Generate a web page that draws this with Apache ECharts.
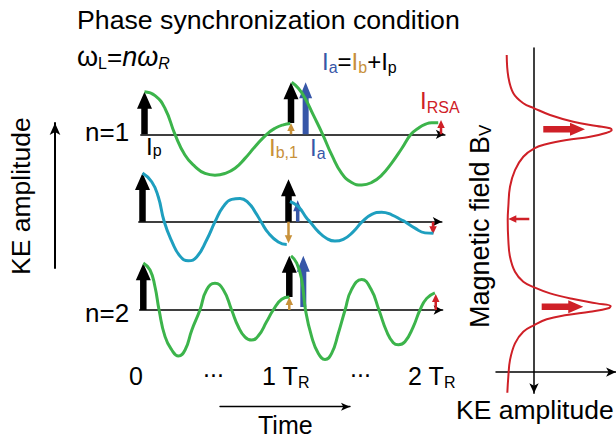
<!DOCTYPE html>
<html>
<head>
<meta charset="utf-8">
<script src="https://cdn.jsdelivr.net/npm/echarts@6/dist/echarts.min.js"></script>
<style>
html, body { margin: 0; padding: 0; background: #fff; }
#chart { width: 616px; height: 440px; }
</style>
</head>
<body>
<div id="chart"></div>
<script>
var FONT = "'Liberation Sans', Arial, Helvetica, sans-serif";
var GREEN = '#3cb44b', TEAL = '#1e9fbf', BLUE = '#3757a8', GOLD = '#c8913a', RED = '#cf2027';

// time in T_R, amplitude in units of the pump kick
var n1Before = [[0.00, 0.99], [0.072, 0.90], [0.140, 0.60], [0.208, 0], [0.276, -0.48], [0.345, -0.75], [0.413, -0.91],
    [0.481, -0.95], [0.549, -0.91], [0.618, -0.79], [0.686, -0.56], [0.754, -0.29], [0.834, 0], [0.891, 0.14],
    [0.947, 0.22], [0.995, 0.25]];
var n1After = [[1.005, 1.21], [1.050, 1.07], [1.096, 0.84], [1.152, 0.45], [1.216, 0], [1.278, -0.48], [1.346, -0.91],
    [1.414, -1.12], [1.483, -1.18], [1.551, -1.12], [1.619, -0.95], [1.687, -0.67], [1.756, -0.33], [1.819, 0],
    [1.869, 0.14], [1.915, 0.23], [1.960, 0.27], [2.005, 0.27]];

var n2Before = [[0.00, 1.13], [0.063, 0.93], [0.108, 0.58], [0.149, 0], [0.200, -0.45], [0.257, -0.80], [0.314, -0.91],
    [0.371, -0.82], [0.440, -0.42], [0.497, 0], [0.553, 0.35], [0.611, 0.52], [0.668, 0.54], [0.725, 0.44],
    [0.771, 0.23], [0.812, 0], [0.862, -0.26], [0.930, -0.47], [0.988, -0.53]];
var n2After = [[1.010, 0.47], [1.067, 0.35], [1.125, 0.08], [1.147, 0], [1.204, -0.23], [1.262, -0.39], [1.318, -0.45],
    [1.375, -0.41], [1.444, -0.23], [1.505, 0], [1.570, 0.17], [1.638, 0.22], [1.707, 0.16], [1.775, 0.04],
    [1.798, 0], [1.866, -0.15], [1.935, -0.26], [1.992, -0.27]];

var n3Before = [[0.00, 1.09], [0.046, 0.93], [0.080, 0.54], [0.108, 0], [0.149, -0.62], [0.195, -0.93], [0.240, -1.07],
    [0.286, -0.93], [0.332, -0.47], [0.388, 0], [0.434, 0.47], [0.491, 0.62], [0.548, 0.47], [0.605, 0],
    [0.651, -0.39], [0.697, -0.63], [0.742, -0.70], [0.788, -0.60], [0.845, -0.27], [0.890, 0], [0.948, 0.25],
    [1.000, 0.30]];
var n3After = [[1.012, 1.26], [1.051, 1.09], [1.085, 0.70], [1.111, 0], [1.153, -0.62], [1.199, -1.01], [1.245, -1.15],
    [1.290, -1.01], [1.336, -0.54], [1.382, 0], [1.427, 0.48], [1.496, 0.71], [1.560, 0.48], [1.614, 0],
    [1.667, -0.50], [1.712, -0.76], [1.747, -0.81], [1.792, -0.74], [1.849, -0.39], [1.895, 0], [1.941, 0.27],
    [1.997, 0.40]];

// kicks: [panel, time, from, to]
var pumpArrows = [[0, 0, 0, 0.99], [0, 1.0, 0.26, 1.21], [1, 0, 0, 1.13], [1, 1.0, 0, 0.99], [2, 0, 0, 1.09], [2, 1.0, 0.30, 1.26]];
var sumArrows = [[0, 1.10, 0, 1.21], [2, 1.096, 0.07, 1.26]];
var sumArrowsWeak = [[1, 1.063, 0, 0.50]];
var before = [[0, 1.0, 0, 0.26], [1, 1.0, 0, -0.50], [2, 1.0, 0, 0.30]];
var rsaArrows = [[0, 2.024, 0, 0.33], [1, 1.99, 0, -0.29], [2, 2.003, 0, 0.37]];

// right panel: [KE amplitude, magnetic field]
var fieldCurve = [[-0.359, 3.522], [-0.338, 3.281], [-0.272, 3.097], [-0.141, 2.986], [0.004, 2.930], [0.211, 2.856],
    [0.517, 2.781], [0.825, 2.733], [1.000, 2.708], [1.022, 2.689], [0.957, 2.659], [0.737, 2.614], [0.430, 2.578],
    [0.167, 2.533], [0.004, 2.486], [-0.141, 2.392], [-0.250, 2.244], [-0.316, 2.059], [-0.338, 1.837], [-0.346, 1.689],
    [-0.338, 1.467], [-0.316, 1.281], [-0.250, 1.114], [-0.141, 1.003], [0.004, 0.941], [0.211, 0.874], [0.517, 0.811],
    [0.825, 0.763], [1.009, 0.733], [0.978, 0.708], [0.737, 0.670], [0.430, 0.633], [0.167, 0.586], [0.004, 0.522],
    [-0.141, 0.448], [-0.250, 0.319], [-0.316, 0.133], [-0.338, -0.052], [-0.351, -0.23]];
// [field, from, to]
var fieldArrows = [[2.697, 0.122, 0.671], [0.726, 0.101, 0.648]];
var fieldArrowsWeak = [[1.70, -0.062, -0.338]];

var panelCurves = [[n1Before, n1After], [n2Before, n2After], [n3Before, n3After]];
var panelColors = [GREEN, TEAL, GREEN];

// layout of the three time traces
var panelAxisY = [134.3, 221.7, 310];
var panelZeroX = [144.5, 142.5, 143.3];
var panelPxPerT = [146.5, 146, 146];
var PX_PER_AMP = 43, T_MIN = -0.025, T_MAX = 2.05, A_LIM = 1.5;

var sizes = {
    pump: {w: 6.5, hw: 15, hl: 17},
    sum: {w: 6, hw: 13, hl: 16},
    sumWeak: {w: 3.5, hw: 9, hl: 11},
    small: {w: 2.5, hw: 7.5, hl: 8},
    big: {w: 6.5, hw: 13, hl: 15}
};

function arrowPoints(p0, p1, s) {
    var dx = p1[0] - p0[0], dy = p1[1] - p0[1];
    var len = Math.sqrt(dx * dx + dy * dy) || 1;
    var ux = dx / len, uy = dy / len, nx = -uy, ny = ux;
    var hl = Math.min(s.hl, len);
    var bx = p1[0] - ux * hl, by = p1[1] - uy * hl;
    return [
        [p0[0] + nx * s.w / 2, p0[1] + ny * s.w / 2],
        [bx + nx * s.w / 2, by + ny * s.w / 2],
        [bx + nx * s.hw / 2, by + ny * s.hw / 2],
        [p1[0], p1[1]],
        [bx - nx * s.hw / 2, by - ny * s.hw / 2],
        [bx - nx * s.w / 2, by - ny * s.w / 2],
        [p0[0] - nx * s.w / 2, p0[1] - ny * s.w / 2]
    ];
}

function arrowSeries(idx, data, size, color) {
    return {
        type: 'custom', xAxisIndex: idx, yAxisIndex: idx, data: data, z: 2, silent: true,
        encode: {x: [0, 2], y: [1, 3]},
        renderItem: function (params, api) {
            var p0 = api.coord([api.value(0), api.value(1)]);
            var p1 = api.coord([api.value(2), api.value(3)]);
            return {type: 'polygon', shape: {points: arrowPoints(p0, p1, size)}, style: {fill: color}};
        }
    };
}

var ctx = document.createElement('canvas').getContext('2d');
// parts: [text, size, dy, color, italic]
function run(x, y, parts, vertical) {
    var out = [], adv = 0;
    parts.forEach(function (p) {
        var font = (p[4] ? 'italic ' : '') + p[1] + 'px ' + FONT;
        ctx.font = font;
        var w = ctx.measureText(p[0]).width;
        var dy = p[2] || 0;
        out.push({
            type: 'text', silent: true,
            x: vertical ? x + dy : x + adv,
            y: vertical ? y - adv : y + dy,
            rotation: vertical ? Math.PI / 2 : 0,
            style: {text: p[0], font: font, fill: p[3] || '#000', align: 'left', verticalAlign: 'middle'}
        });
        adv += w;
    });
    return out;
}

var grids = [], xAxes = [], yAxes = [], series = [];
var noAxisBits = {axisTick: {show: false}, axisLabel: {show: false}, splitLine: {show: false}};

for (var i = 0; i < 3; i++) {
    grids.push({
        left: panelZeroX[i] + T_MIN * panelPxPerT[i],
        top: panelAxisY[i] - A_LIM * PX_PER_AMP,
        width: (T_MAX - T_MIN) * panelPxPerT[i],
        height: 2 * A_LIM * PX_PER_AMP,
        outerBoundsMode: 'none'
    });
    xAxes.push(Object.assign({
        gridIndex: i, type: 'value', min: T_MIN, max: T_MAX,
        axisLine: {show: true, onZero: true, symbol: ['none', 'arrow'], symbolSize: [7, 9], lineStyle: {color: '#000', width: 1.6}}
    }, noAxisBits));
    yAxes.push({gridIndex: i, type: 'value', min: -A_LIM, max: A_LIM, show: false});
    panelCurves[i].forEach(function (seg) {
        series.push({
            type: 'line', xAxisIndex: i, yAxisIndex: i, data: seg, smooth: 0.5, symbol: 'none', silent: true, z: 3,
            lineStyle: {color: panelColors[i], width: 3}
        });
    });
}

function vertical(list, idx) {
    return list.filter(function (a) { return a[0] === idx; }).map(function (a) { return [a[1], a[2], a[1], a[3]]; });
}
[[pumpArrows, sizes.pump, '#000'], [sumArrows, sizes.sum, BLUE], [sumArrowsWeak, sizes.sumWeak, BLUE],
    [before, sizes.small, GOLD], [rsaArrows, sizes.small, RED]].forEach(function (g) {
    for (var k = 0; k < 3; k++) {
        var d = vertical(g[0], k);
        if (d.length) series.push(arrowSeries(k, d, g[1], g[2]));
    }
});

// right panel, grid 3
grids.push({left: 496, top: 48, width: 120.1, height: 345.2, outerBoundsMode: 'none'});
xAxes.push(Object.assign({
    gridIndex: 3, type: 'value', min: -0.5, max: 1.08,
    axisLine: {show: true, onZero: true, symbol: ['none', 'arrow'], symbolSize: [7, 10], lineStyle: {color: '#000', width: 1.5}}
}, noAxisBits));
yAxes.push(Object.assign({
    gridIndex: 3, type: 'value', min: -0.235, max: 3.6,
    axisLine: {show: true, onZero: true, symbol: ['arrow', 'none'], symbolSize: [7, 10], lineStyle: {color: '#000', width: 1.5}}
}, noAxisBits));
series.push({
    type: 'line', xAxisIndex: 3, yAxisIndex: 3, data: fieldCurve, smooth: 0.4, symbol: 'none', silent: true,
    lineStyle: {color: RED, width: 2}
});
function horizontal(list) {
    return list.map(function (a) { return [a[1], a[0], a[2], a[0]]; });
}
series.push(arrowSeries(3, horizontal(fieldArrows), sizes.big, RED));
series.push(arrowSeries(3, horizontal(fieldArrowsWeak), sizes.small, RED));

// "KE amplitude" arrow on the far left, grid 4
grids.push({left: 55, top: 123, width: 10, height: 145, outerBoundsMode: 'none'});
xAxes.push({gridIndex: 4, type: 'value', min: 0, max: 1, show: false});
yAxes.push(Object.assign({
    gridIndex: 4, type: 'value', min: 0, max: 1,
    axisLine: {show: true, onZero: true, symbol: ['none', 'arrow'], symbolSize: [8, 12], lineStyle: {color: '#000', width: 2}}
}, noAxisBits));

// time arrow, grid 5
grids.push({left: 220, top: 400, width: 130, height: 6.7, outerBoundsMode: 'none'});
xAxes.push(Object.assign({
    gridIndex: 5, type: 'value', min: 0, max: 1,
    axisLine: {show: true, onZero: false, symbol: ['none', 'arrow'], symbolSize: [6, 9], lineStyle: {color: '#000', width: 1.4}}
}, noAxisBits));
yAxes.push({gridIndex: 5, type: 'value', min: 0, max: 1, show: false});

var texts = [].concat(
    run(77, 19.5, [['Phase synchronization condition', 26.7]]),
    run(77, 57, [['ω', 27], ['L', 16, 6], ['=', 26], ['nω', 27, 0, null, true], ['R', 16, 6, null, true]]),
    run(322, 61.5, [['I', 24, 0, BLUE], ['a', 16, 6, BLUE], ['=', 24], ['I', 24, 0, GOLD], ['b', 16, 6, GOLD],
        ['+', 24], ['I', 24], ['p', 16, 6]]),
    run(420, 100.5, [['I', 24, 0, RED], ['RSA', 16, 7, RED]]),
    run(85, 132, [['n=1', 26]]),
    run(85, 313, [['n=2', 26]]),
    run(146, 146, [['I', 24], ['p', 16, 4]]),
    run(269, 147, [['I', 24, 0, GOLD], ['b,1', 16, 5.5, GOLD]]),
    run(310, 147, [['I', 24, 0, BLUE], ['a', 16, 6, BLUE]]),
    run(129, 375.5, [['0', 25]]),
    run(203, 368, [['...', 25]]),
    run(262, 375.5, [['1 T', 25], ['R', 16, 6.5]]),
    run(350, 368, [['...', 25]]),
    run(408, 375.5, [['2 T', 25], ['R', 16, 6.5]]),
    run(258, 425, [['Time', 25]]),
    run(456, 410, [['KE amplitude', 26.5]]),
    run(20.5, 275, [['KE amplitude', 26.5]], true),
    run(479.6, 328, [['Magnetic field B', 27], ['V', 17, 6]], true)
);

var chart = echarts.init(document.getElementById('chart'), null, {renderer: 'svg'});
chart.setOption({
    animation: false,
    backgroundColor: '#fff',
    grid: grids,
    xAxis: xAxes,
    yAxis: yAxes,
    series: series,
    graphic: texts
});
</script>
</body>
</html>
